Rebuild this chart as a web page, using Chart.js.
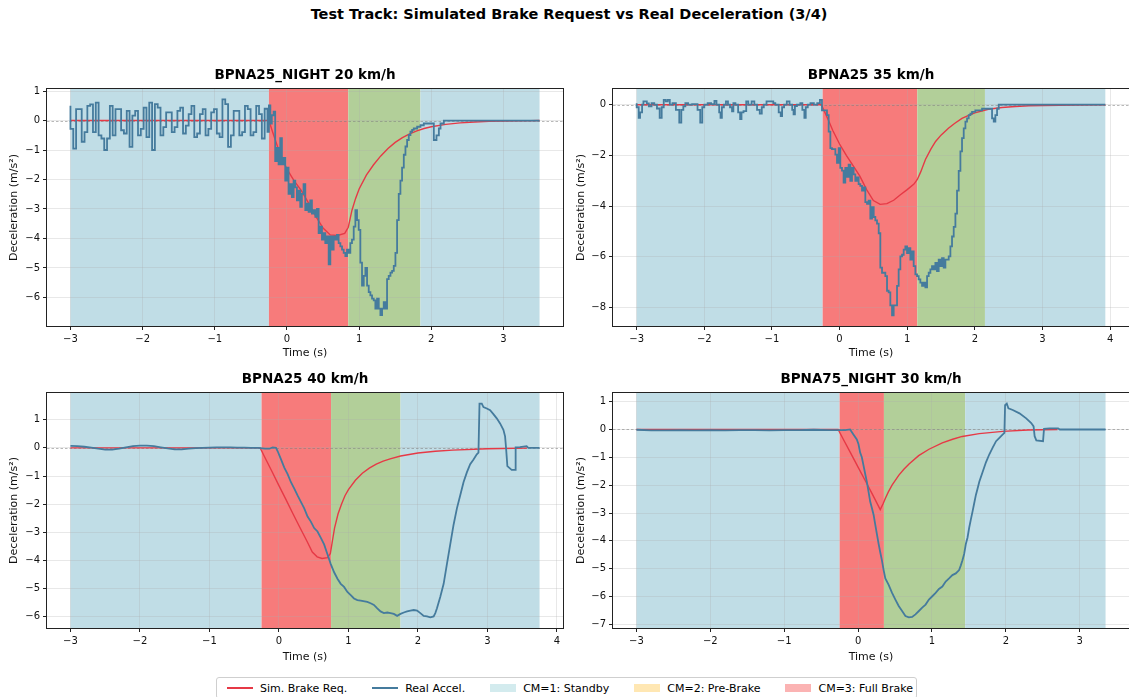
<!DOCTYPE html>
<html>
<head>
<meta charset="utf-8">
<script src="https://cdn.jsdelivr.net/npm/chart.js@4.4.1/dist/chart.umd.min.js"></script>
<style>
  html, body { margin: 0; padding: 0; width: 1129px; height: 697px; overflow: hidden; background: #fff; }
  body { position: relative; font-family: 'DejaVu Sans', sans-serif; color: #000; }
  canvas { position: absolute; }
  .ptitle { position: absolute; font-size: 13.5px; font-weight: bold; line-height: 16px; white-space: nowrap; transform: translateX(-50%); }
  #suptitle { position: absolute; left: 569px; top: 6px; transform: translateX(-50%); font-size: 14.5px; font-weight: bold; line-height: 17px; white-space: nowrap; }
  #legend { position: absolute; left: 216px; top: 677px; width: 701px; height: 22px; border: 1px solid #cfcfcf; border-radius: 3px; background: #fff;
            display: flex; align-items: center; padding-left: 10px; box-sizing: border-box; font-size: 11px; }
  .item { display: flex; align-items: center; margin-right: 25px; white-space: nowrap; }
  .swatch { width: 26px; margin-right: 7px; }
  .ln { height: 2px; }
  .patch { height: 8px; }
</style>
</head>
<body>
<div id="suptitle">Test Track: Simulated Brake Request vs Real Deceleration (3/4)</div>
<div id="legend">
  <span class="item"><span class="swatch ln" style="background:#e63946"></span>Sim. Brake Req.</span>
  <span class="item"><span class="swatch ln" style="background:#457b9d"></span>Real Accel.</span>
  <span class="item"><span class="swatch patch" style="background:#d3ebee"></span>CM=1: Standby</span>
  <span class="item"><span class="swatch patch" style="background:#ffe7b3"></span>CM=2: Pre-Brake</span>
  <span class="item" style="margin-right:0"><span class="swatch patch" style="background:#fbb3b3"></span>CM=3: Full Brake</span>
</div>
<script>
// ---- data: time (s), deceleration (m/s²) ----
const panelTitles = ['BPNA25_NIGHT 20 km/h', 'BPNA25 35 km/h', 'BPNA25 40 km/h', 'BPNA75_NIGHT 30 km/h'];

const xTicks1 = [-3, -2, -1, 0, 1, 2, 3];
const xTicks2 = [-3, -2, -1, 0, 1, 2, 3, 4];
const xTicks3 = [-3, -2, -1, 0, 1, 2, 3, 4];
const xTicks4 = [-3, -2, -1, 0, 1, 2, 3];
const yTicks1 = [-6, -5, -4, -3, -2, -1, 0, 1];
const yTicks2 = [-8, -6, -4, -2, 0];
const yTicks3 = [-6, -5, -4, -3, -2, -1, 0, 1];
const yTicks4 = [-7, -6, -5, -4, -3, -2, -1, 0, 1];

// CM state spans: [from, to, state]
const cmSpans1 = [[-3, -0.25, 1], [-0.25, 0.85, 3], [0.85, 1.85, 2], [1.85, 3.5, 1]];
const cmSpans2 = [[-3, -0.25, 1], [-0.25, 1.15, 3], [1.15, 2.15, 2], [2.15, 3.93, 1]];
const cmSpans3 = [[-3, -0.25, 1], [-0.25, 0.75, 3], [0.75, 1.75, 2], [1.75, 3.75, 1]];
const cmSpans4 = [[-3, -0.25, 1], [-0.25, 0.35, 3], [0.35, 1.45, 2], [1.45, 3.35, 1]];

const simBrake1 = [[-3,0],[-0.25,0],[-0.2,-0.38],[-0.15,-0.74],[-0.1,-1.1],[-0.05,-1.38],[0,-1.65],[0.1,-2.05],[0.2,-2.38],
  [0.3,-2.8],[0.4,-3.25],[0.5,-3.65],[0.6,-3.88],[0.7,-3.9],[0.8,-3.83],[0.85,-3.62],[0.9,-3.05],[0.95,-2.65],[1.0,-2.32],
  [1.1,-1.85],[1.2,-1.5],[1.3,-1.2],[1.4,-0.95],[1.5,-0.74],[1.6,-0.58],[1.7,-0.45],[1.8,-0.35],[1.9,-0.27],[2.0,-0.21],
  [2.2,-0.13],[2.4,-0.08],[2.6,-0.05],[2.8,-0.03],[3.0,-0.02],[3.25,-0.01],[3.5,0]];

const realAccel1 = [[-3.000,0.5],[-2.961,-0.28],[-2.922,-0.95],[-2.883,0.39],[-2.844,0.39],[-2.805,-0.72],[-2.766,-0.39],
  [-2.727,0.5],[-2.688,0.55],[-2.649,-0.39],[-2.610,0.61],[-2.571,-0.5],[-2.532,-0.61],[-2.493,-1.0],[-2.454,-0.61],
  [-2.415,0.5],[-2.376,-0.5],[-2.337,0.39],[-2.298,0.39],[-2.259,-0.33],[-2.220,-0.44],[-2.181,0.33],[-2.142,-0.89],
  [-2.103,0.17],[-2.064,0.33],[-2.025,-0.5],[-1.986,-0.28],[-1.947,0.44],[-1.908,-0.56],[-1.869,0.61],[-1.830,-1.0],
  [-1.791,0.56],[-1.752,0.44],[-1.713,-0.5],[-1.674,-0.22],[-1.635,0.28],[-1.596,0.28],[-1.557,-0.39],[-1.518,-0.22],
  [-1.479,0.33],[-1.440,0.44],[-1.401,-0.44],[-1.362,-0.17],[-1.323,0.22],[-1.284,0.5],[-1.245,-0.56],[-1.206,-0.44],
  [-1.167,0.22],[-1.128,0.39],[-1.089,-0.5],[-1.050,-0.28],[-1.011,0.28],[-0.972,0.39],[-0.933,-0.44],[-0.894,-0.56],
  [-0.855,0.72],[-0.816,0.56],[-0.777,-0.89],[-0.738,-0.5],[-0.699,0.33],[-0.660,0.33],[-0.621,-0.5],[-0.582,-0.39],
  [-0.543,0.5],[-0.504,0.39],[-0.465,-0.5],[-0.426,-0.39],[-0.387,0.5],[-0.348,0.22],[-0.309,-0.61],
  [-0.27,0.4],[-0.25,-0.38],[-0.23,0.51],[-0.21,-0.1],[-0.185,0.18],[-0.163,0.3],
  [-0.14,-1.38],[-0.116,-0.93],[-0.093,-1.49],[-0.07,-0.6],[-0.047,-1.49],[-0.024,-1.27],[0.0,-2.04],[0.022,-1.6],
  [0.045,-2.49],[0.068,-2.16],[0.092,-2.6],[0.115,-2.04],[0.138,-2.27],[0.161,-2.71],[0.184,-2.38],[0.207,-2.93],
  [0.23,-2.49],[0.254,-2.16],[0.277,-3.04],[0.3,-2.82],[0.323,-3.1],[0.346,-2.71],[0.369,-3.16],[0.393,-3.04],
  [0.416,-3.27],[0.439,-3.0],[0.462,-3.82],[0.485,-3.6],[0.508,-4.04],[0.531,-3.82],[0.554,-4.16],[0.578,-3.93],
  [0.601,-4.88],[0.624,-3.93],[0.647,-4.38],[0.67,-3.93],[0.693,-4.04],[0.716,-3.88],[0.74,-4.16],[0.763,-4.27],
  [0.786,-4.38],[0.809,-4.49],[0.832,-4.6],[0.855,-4.38],[0.878,-4.49],[0.901,-4.16],[0.925,-4.04],[0.948,-3.6],
  [0.971,-3.04],[0.994,-3.38],[1.017,-3.71],[1.04,-4.82],[1.064,-5.6],[1.087,-5.27],[1.11,-5.0],[1.133,-5.6],
  [1.156,-5.82],[1.179,-5.93],[1.202,-6.04],[1.225,-6.1],[1.249,-6.38],[1.272,-6.04],[1.295,-6.38],[1.318,-6.6],
  [1.341,-6.38],[1.364,-6.16],[1.387,-6.38],[1.41,-5.38],[1.434,-5.27],[1.457,-5.16],[1.48,-5.1],[1.503,-4.93],
  [1.526,-4.49],[1.549,-3.38],[1.572,-2.49],[1.595,-2.04],[1.619,-1.6],[1.642,-1.16],[1.665,-0.88],[1.688,-0.66],
  [1.711,-0.49],[1.734,-0.38],[1.757,-0.32],[1.804,-0.27],[1.85,-0.21],[1.896,-0.16],[1.942,-0.1],[2.035,-0.1],
  [2.072,-0.66],[2.105,-0.5],[2.128,-0.27],[2.174,-0.1],[2.22,0],[3.5,0]];

const simBrake2 = [[-3,0],[-0.27,0],[-0.2,-0.4],[-0.15,-0.7],[-0.1,-1.02],[0,-1.55],[0.1,-2.0],[0.2,-2.4],[0.3,-2.82],
  [0.4,-3.35],[0.5,-3.78],[0.6,-3.93],[0.7,-3.9],[0.8,-3.77],[0.9,-3.55],[1.0,-3.35],[1.1,-3.13],[1.15,-2.95],[1.2,-2.65],
  [1.27,-2.16],[1.35,-1.75],[1.42,-1.45],[1.5,-1.2],[1.61,-0.93],[1.7,-0.74],[1.81,-0.54],[1.9,-0.43],[2.0,-0.32],
  [2.2,-0.18],[2.4,-0.11],[2.6,-0.07],[2.8,-0.04],[3.0,-0.03],[3.5,-0.01],[3.93,0]];

const realAccel2 = [[-3.0,0.06],[-2.97,-0.1],[-2.95,-0.52],[-2.92,-0.3],[-2.9,0],[-2.85,0.13],[-2.82,0.05],[-2.78,-0.06],
  [-2.74,0.06],[-2.7,0],[-2.66,-0.15],[-2.63,-0.52],[-2.6,-0.1],[-2.57,0.19],[-2.54,0.13],[-2.51,0.19],[-2.47,0],
  [-2.42,0.06],[-2.37,-0.2],[-2.34,-0.71],[-2.31,-0.2],[-2.28,-0.06],[-2.24,0.06],[-2.18,0],[-2.1,0.02],[-2.06,-0.2],
  [-2.03,-0.71],[-2.0,-0.1],[-1.95,0],[-1.9,0.06],[-1.85,0.02],[-1.82,0.15],[-1.78,0],[-1.76,-0.3],[-1.74,-0.52],
  [-1.71,-0.1],[-1.68,0],[-1.65,0.13],[-1.62,0],[-1.59,-0.1],[-1.57,-0.26],[-1.54,0.06],[-1.5,0],[-1.47,-0.3],
  [-1.45,-0.57],[-1.42,-0.3],[-1.38,-0.25],[-1.35,0.13],[-1.3,0],[-1.26,0.13],[-1.22,0],[-1.18,-0.2],[-1.15,-0.35],
  [-1.12,-0.1],[-1.08,0],[-1.03,0.13],[-0.98,0.13],[-0.95,0.06],[-0.9,0],[-0.87,-0.3],[-0.85,-0.45],[-0.82,-0.1],
  [-0.78,0],[-0.74,0.13],[-0.7,0],[-0.68,-0.2],[-0.66,-0.38],[-0.63,-0.05],[-0.58,0],[-0.55,0.06],[-0.52,-0.2],
  [-0.5,-0.52],[-0.47,-0.1],[-0.43,0],[-0.38,0.06],[-0.33,0],[-0.29,0.06],[-0.26,0.19],[-0.235,-0.22],[-0.21,-0.22],
  [-0.186,-0.22],[-0.161,-0.41],[-0.136,-1.06],[-0.112,-1.71],[-0.087,-1.75],[-0.062,-1.75],[-0.038,-1.97],
  [-0.013,-2.29],[0.011,-1.71],[0.036,-2.49],[0.06,-2.6],[0.085,-3.07],[0.11,-2.49],[0.134,-2.85],[0.159,-2.36],
  [0.184,-3.0],[0.208,-2.49],[0.233,-2.75],[0.258,-3.0],[0.282,-2.87],[0.307,-3.13],[0.332,-3.2],[0.357,-3.39],
  [0.381,-3.26],[0.406,-3.84],[0.43,-3.91],[0.455,-3.78],[0.48,-4.49],[0.505,-4.04],[0.529,-4.43],[0.554,-4.56],
  [0.579,-4.69],[0.603,-5.07],[0.628,-6.43],[0.653,-6.63],[0.677,-6.63],[0.702,-6.76],[0.726,-7.34],[0.751,-7.4],
  [0.776,-7.92],[0.8,-8.31],[0.825,-7.92],[0.85,-7.92],[0.874,-7.15],[0.899,-6.5],[0.924,-5.98],[0.948,-5.92],
  [0.973,-5.72],[0.998,-5.59],[1.022,-5.85],[1.047,-5.66],[1.072,-6.11],[1.096,-5.79],[1.121,-6.37],[1.146,-6.69],
  [1.17,-6.76],[1.195,-6.89],[1.22,-7.02],[1.244,-7.15],[1.269,-7.02],[1.294,-7.21],[1.318,-6.76],[1.343,-6.63],
  [1.367,-6.5],[1.392,-6.37],[1.417,-6.5],[1.441,-6.24],[1.466,-6.56],[1.491,-6.11],[1.515,-6.37],[1.54,-6.05],
  [1.565,-6.43],[1.589,-6.11],[1.614,-6.11],[1.639,-5.98],[1.663,-5.59],[1.688,-5.2],[1.713,-4.82],[1.737,-4.3],
  [1.762,-3.39],[1.787,-2.61],[1.811,-1.84],[1.836,-1.32],[1.861,-0.93],[1.885,-0.67],[1.91,-0.54],[1.935,-0.41],
  [1.959,-0.35],[2.008,-0.28],[2.058,-0.22],[2.107,-0.22],[2.156,-0.16],[2.255,-0.16],[2.28,-0.54],[2.304,-0.67],
  [2.329,-0.41],[2.354,-0.16],[2.378,0],[3.93,0]];

const simBrake3 = [[-3,0],[-0.27,0],[-0.2,-0.35],[-0.1,-0.84],[0,-1.34],[0.1,-1.83],[0.2,-2.33],[0.3,-2.82],[0.4,-3.3],
  [0.48,-3.7],[0.55,-3.87],[0.62,-3.93],[0.7,-3.9],[0.74,-3.75],[0.77,-3.3],[0.8,-2.85],[0.85,-2.35],[0.9,-2.0],
  [0.95,-1.7],[1.0,-1.48],[1.1,-1.15],[1.2,-0.9],[1.3,-0.72],[1.4,-0.58],[1.5,-0.47],[1.6,-0.39],[1.75,-0.29],
  [2.0,-0.18],[2.25,-0.12],[2.5,-0.08],[3.0,-0.03],[3.57,-0.01]];

const realAccel3 = [[-3.0,0.07],[-2.9,0.06],[-2.8,0.04],[-2.7,0.01],[-2.6,-0.03],[-2.5,-0.06],[-2.4,-0.06],[-2.3,-0.03],
  [-2.2,0.02],[-2.1,0.06],[-2.0,0.08],[-1.9,0.08],[-1.8,0.06],[-1.7,0.02],[-1.6,-0.02],[-1.5,-0.05],[-1.4,-0.05],
  [-1.3,-0.03],[-1.2,-0.01],[-1.1,0],[-1.0,0.01],[-0.9,0.02],[-0.8,0.02],[-0.7,0.02],[-0.6,0.01],[-0.5,0.01],[-0.4,0],
  [-0.3,0],[-0.2,-0.03],[-0.137,-0.03],[-0.09,0.02],[-0.042,0.0],[-0.018,-0.12],[0.03,-0.41],[0.077,-0.7],[0.125,-0.93],
  [0.173,-1.22],[0.221,-1.45],[0.268,-1.69],[0.316,-1.92],[0.364,-2.15],[0.412,-2.44],[0.459,-2.62],[0.507,-2.85],
  [0.555,-2.97],[0.603,-3.2],[0.65,-3.43],[0.698,-3.78],[0.746,-4.13],[0.794,-4.42],[0.842,-4.65],[0.889,-4.83],
  [0.937,-4.94],[0.985,-5.12],[1.033,-5.23],[1.08,-5.35],[1.128,-5.41],[1.176,-5.43],[1.271,-5.47],[1.319,-5.52],
  [1.367,-5.58],[1.415,-5.7],[1.462,-5.81],[1.51,-5.87],[1.558,-5.85],[1.606,-5.87],[1.653,-5.9],[1.701,-5.97],
  [1.749,-5.9],[1.797,-5.85],[1.844,-5.81],[1.892,-5.78],[1.94,-5.76],[1.988,-5.78],[2.035,-5.87],[2.083,-5.97],
  [2.131,-5.99],[2.179,-6.02],[2.226,-5.99],[2.25,-5.87],[2.274,-5.7],[2.322,-5.29],[2.37,-4.83],[2.417,-4.13],
  [2.465,-3.43],[2.513,-2.73],[2.561,-2.15],[2.608,-1.69],[2.656,-1.22],[2.704,-0.87],[2.752,-0.58],[2.8,-0.41],
  [2.847,-0.23],[2.871,-0.17],[2.886,1.57],[2.919,1.57],[2.943,1.45],[2.991,1.4],[3.039,1.34],[3.086,1.2],[3.134,1.05],
  [3.182,0.87],[3.23,0.64],[3.254,0.41],[3.268,0.0],[3.287,-0.65],[3.349,-0.78],[3.397,-0.78],[3.406,0.02],
  [3.468,0.03],[3.564,0.06],[3.588,0],[3.75,0]];

const simBrake4 = [[-3,0],[-0.27,0],[-0.2,-0.35],[-0.1,-0.85],[0,-1.35],[0.1,-1.85],[0.2,-2.36],[0.3,-2.88],
  [0.34,-2.66],[0.37,-2.47],[0.41,-2.24],[0.46,-2.0],[0.55,-1.65],[0.62,-1.43],[0.69,-1.24],[0.82,-0.94],[0.96,-0.71],
  [1.14,-0.48],[1.28,-0.35],[1.41,-0.25],[1.64,-0.15],[1.96,-0.07],[2.3,-0.02],[2.7,0]];

const realAccel4 = [[-3.0,-0.01],[-2.8,-0.03],[-2.6,-0.03],[-2.4,-0.02],[-2.2,-0.03],[-2.0,-0.02],[-1.8,-0.03],
  [-1.6,-0.02],[-1.4,-0.02],[-1.2,-0.03],[-1.0,-0.02],[-0.8,-0.02],[-0.6,-0.01],[-0.4,-0.02],[-0.176,-0.02],
  [-0.108,0.0],[-0.063,-0.18],[-0.017,-0.36],[0.006,-0.53],[0.028,-0.83],[0.051,-1.0],[0.074,-1.3],[0.096,-1.59],
  [0.119,-1.88],[0.142,-2.24],[0.164,-2.59],[0.187,-2.82],[0.21,-3.06],[0.232,-3.41],[0.255,-3.76],[0.278,-4.11],
  [0.3,-4.41],[0.323,-4.7],[0.346,-5.05],[0.369,-5.35],[0.414,-5.58],[0.46,-5.87],[0.505,-6.11],[0.55,-6.34],
  [0.596,-6.52],[0.641,-6.7],[0.687,-6.75],[0.732,-6.73],[0.777,-6.64],[0.823,-6.52],[0.868,-6.4],[0.914,-6.29],
  [0.959,-6.11],[1.005,-5.99],[1.05,-5.87],[1.095,-5.73],[1.141,-5.64],[1.186,-5.46],[1.232,-5.35],[1.277,-5.23],
  [1.323,-5.17],[1.368,-5.05],[1.391,-4.88],[1.413,-4.7],[1.436,-4.47],[1.459,-4.11],[1.482,-3.88],[1.504,-3.53],
  [1.527,-3.23],[1.55,-2.94],[1.572,-2.65],[1.595,-2.35],[1.618,-2.12],[1.641,-1.88],[1.686,-1.53],[1.731,-1.18],
  [1.777,-0.89],[1.822,-0.65],[1.868,-0.42],[1.913,-0.3],[1.959,-0.18],[1.981,-0.12],[1.99,0.87],[2.013,0.93],
  [2.035,0.76],[2.094,0.7],[2.185,0.58],[2.276,0.4],[2.344,0.23],[2.376,0.11],[2.39,-0.24],[2.413,-0.39],
  [2.504,-0.42],[2.517,0.02],[2.594,0.04],[2.708,0.04],[2.731,0],[3.35,0]];

// ---- styling ----
const FONT = "'DejaVu Sans', sans-serif";
const bandFill = { 1: '#c0dde6', 2: '#b2cf99', 3: '#f77b7b' };
const minus = v => (v < 0 ? '\u2212' + Math.abs(v) : String(v));

// coloured CM state spans behind everything (grid is drawn on top of them)
const cmBands = {
  id: 'cmBands',
  beforeDraw(chart, args, opts) {
    const { ctx, chartArea: a, scales: { x } } = chart;
    ctx.save();
    ctx.beginPath();
    ctx.rect(a.left, a.top, a.width, a.height);
    ctx.clip();
    opts.spans.forEach(([from, to, cm]) => {
      const x0 = x.getPixelForValue(from), x1 = x.getPixelForValue(to);
      ctx.fillStyle = bandFill[cm];
      ctx.fillRect(x0, a.top, x1 - x0, a.height);
    });
    ctx.restore();
  }
};

// dashed zero reference + full axes frame
const zeroFrame = {
  id: 'zeroFrame',
  beforeDatasetsDraw(chart) {
    const { ctx, chartArea: a, scales: { y } } = chart;
    const y0 = Math.round(y.getPixelForValue(0)) + 0.5;
    ctx.save();
    ctx.strokeStyle = 'rgba(128,128,128,0.8)';
    ctx.lineWidth = 0.7;
    ctx.setLineDash([2.5, 2]);
    ctx.beginPath();
    ctx.moveTo(a.left, y0);
    ctx.lineTo(a.right, y0);
    ctx.stroke();
    ctx.restore();
  },
  afterDraw(chart) {
    const { ctx, chartArea: a } = chart;
    ctx.save();
    ctx.strokeStyle = '#222';
    ctx.lineWidth = 1;
    ctx.strokeRect(Math.round(a.left) - 0.5, Math.round(a.top) - 0.5, Math.round(a.width) + 1, Math.round(a.height) + 1);
    ctx.restore();
  }
};

const panels = [
  { sim: simBrake1, real: realAccel1, spans: cmSpans1, xLim: [-3.325, 3.825], yLim: [-6.97, 1.07], xt: xTicks1, yt: yTicks1, stepped: 'after',
    left: 0, top: 80, yw: 47, xh: 39, padRight: 7, yPad: 8, titleTop: 66 },
  { sim: simBrake2, real: realAccel2, spans: cmSpans2, xLim: [-3.35, 4.28], yLim: [-8.73, 0.62], xt: xTicks2, yt: yTicks2, stepped: 'after',
    left: 565, top: 80, yw: 48, xh: 39, padRight: 6, yPad: 9.5, titleTop: 66 },
  { sim: simBrake3, real: realAccel3, spans: cmSpans3, xLim: [-3.3375, 4.0875], yLim: [-6.40, 1.95], xt: xTicks3, yt: yTicks3, stepped: false,
    left: 0, top: 384, yw: 47, xh: 41, padRight: 7, yPad: 8, titleTop: 369.5 },
  { sim: simBrake4, real: realAccel4, spans: cmSpans4, xLim: [-3.3175, 3.6675], yLim: [-7.13, 1.31], xt: xTicks4, yt: yTicks4, stepped: false,
    left: 565, top: 384, yw: 48, xh: 41, padRight: 6, yPad: 9.5, titleTop: 369.5 }
];

const W = 570, H = 285;

panels.forEach((p, i) => {
  const cv = document.createElement('canvas');
  cv.width = W; cv.height = H;
  cv.style.left = p.left + 'px';
  cv.style.top = p.top + 'px';
  cv.style.width = W + 'px';
  cv.style.height = H + 'px';
  document.body.appendChild(cv);

  const t = document.createElement('div');
  t.className = 'ptitle';
  t.textContent = panelTitles[i];
  t.style.top = p.titleTop + 'px';
  t.style.left = (p.left + p.yw + (W - p.yw - p.padRight) / 2) + 'px';
  document.body.appendChild(t);

  const grid = { color: 'rgba(170,170,170,0.35)', lineWidth: 0.8, tickColor: '#222', tickLength: 4, tickWidth: 1 };
  const tickFont = { family: FONT, size: 10 };
  const titleFont = { family: FONT, size: 11 };

  new Chart(cv, {
    type: 'line',
    data: {
      datasets: [
        { label: 'Sim. Brake Req.', data: p.sim.map(([x, y]) => ({ x, y })), borderColor: '#e63946', borderWidth: 1.4,
          pointRadius: 0, tension: 0, order: 1 },
        { label: 'Real Accel.', data: p.real.map(([x, y]) => ({ x, y })), borderColor: '#457b9d', borderWidth: 1.8,
          pointRadius: 0, tension: 0, stepped: p.stepped, order: 0 }
      ]
    },
    options: {
      responsive: false,
      animation: false,
      devicePixelRatio: 1,
      events: [],
      layout: { padding: { top: 6, right: p.padRight, left: 0, bottom: 0 } },
      scales: {
        x: {
          type: 'linear', min: p.xLim[0], max: p.xLim[1],
          afterBuildTicks: s => { s.ticks = p.xt.map(v => ({ value: v })); },
          afterFit: s => { s.height = p.xh; },
          ticks: { font: tickFont, color: '#111', padding: 3, maxRotation: 0, autoSkip: false, callback: v => minus(v) },
          grid: grid,
          border: { display: false },
          title: { display: true, text: 'Time (s)', font: titleFont, color: '#111', padding: { top: 0, bottom: 5.5 } }
        },
        y: {
          type: 'linear', min: p.yLim[0], max: p.yLim[1],
          afterBuildTicks: s => { s.ticks = p.yt.map(v => ({ value: v })); },
          afterFit: s => { s.width = p.yw; },
          ticks: { font: tickFont, color: '#111', padding: 3, autoSkip: false, callback: v => minus(v) },
          grid: grid,
          border: { display: false },
          title: { display: true, text: 'Deceleration (m/s²)', font: titleFont, color: '#111', padding: { top: p.yPad, bottom: 0 } }
        }
      },
      plugins: {
        legend: { display: false },
        tooltip: { enabled: false },
        cmBands: { spans: p.spans }
      }
    },
    plugins: [cmBands, zeroFrame]
  });
});
</script>
</body>
</html>
